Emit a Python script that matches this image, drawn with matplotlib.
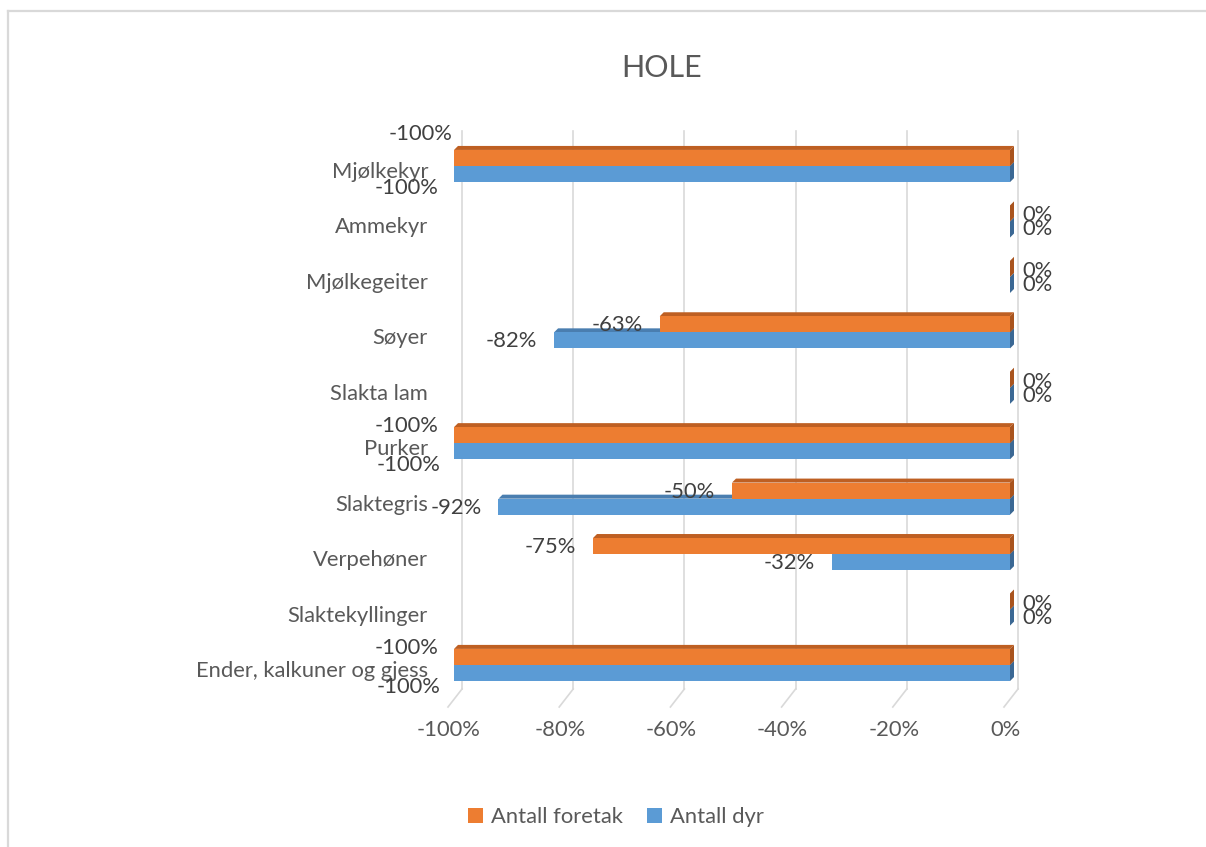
import matplotlib
matplotlib.use("Agg")
import matplotlib.pyplot as plt
from matplotlib.patches import Polygon, Patch
from matplotlib.lines import Line2D

# ---------------- data ----------------
title = "HOLE"
categories = ["Mjølkekyr", "Ammekyr", "Mjølkegeiter", "Søyer", "Slakta lam",
              "Purker", "Slaktegris", "Verpehøner", "Slaktekyllinger",
              "Ender, kalkuner og gjess"]
antall_foretak = [-1.00, 0.00, 0.00, -0.63, 0.00, -1.00, -0.50, -0.75, 0.00, -1.00]
antall_dyr = [-1.00, 0.00, 0.00, -0.82, 0.00, -1.00, -0.92, -0.32, 0.00, -1.00]
series_names = ["Antall foretak", "Antall dyr"]
x_ticks = [-1.0, -0.8, -0.6, -0.4, -0.2, 0.0]
x_tick_labels = ["-100%", "-80%", "-60%", "-40%", "-20%", "0%"]

# ---------------- style ----------------
FONT = ["Lato", "DejaVu Sans"]
plt.rcParams["font.family"] = FONT
TXT = "#595959"
LBL = "#404040"
ORANGE, ORANGE_TOP, ORANGE_SIDE = "#ED7D31", "#BE5F22", "#A9541E"
BLUE, BLUE_TOP, BLUE_SIDE = "#5B9BD5", "#4A7EB0", "#3B6894"
GRID = "#D9D9D9"
FS = 15.8

W, H = 1206, 847
fig = plt.figure(figsize=(W / 100, H / 100), dpi=100)
fig.patch.set_facecolor("white")

ax_left, ax_right = 454.0, 1010.0
ax_top, ax_bot = 138.3, 692.7
n = len(categories)
ax = fig.add_axes([ax_left / W, 1 - ax_bot / H, (ax_right - ax_left) / W, (ax_bot - ax_top) / H])
ax.set_xlim(-1, 0)
ax.set_ylim(n - 0.5, -0.5)
ax.axis("off")

PX_X = (ax_right - ax_left) / 1.0          # pixels per data unit in x
PX_Y = (ax_bot - ax_top) / n               # pixels per category


def px2y(py):
    return -0.5 + (py - ax_top) / PX_Y


def dxp(p):
    return p / PX_X


def dyp(p):
    return p / PX_Y


# ---------------- back wall grid + floor ----------------
for t in x_ticks:
    xb = t + dxp(8)
    ax.add_line(Line2D([xb, xb], [px2y(131), px2y(689)], color=GRID, lw=1.2,
                       clip_on=False, zorder=0))
    ax.add_line(Line2D([xb, t - dxp(6)], [px2y(689), px2y(707)], color=GRID, lw=1.2,
                       clip_on=False, zorder=0))

for t, lab in zip(x_ticks, x_tick_labels):
    ax.text(t - dxp(5), px2y(730), lab, ha="center", va="center", fontsize=FS,
            color=TXT, clip_on=False)

# ---------------- 3D bars ----------------
bh = 0.29
DX, DY = dxp(4), dyp(4)


def draw_bar(v, ytop, front, top, side, z):
    ybot = ytop + bh
    ax.barh(ytop + bh / 2, v, height=bh, color=front, lw=0, zorder=z)
    ax.add_patch(Polygon([(v, ytop), (0, ytop), (DX, ytop - DY), (v + DX, ytop - DY)],
                         closed=True, facecolor=top, lw=0, zorder=z - 0.5, clip_on=False))
    ax.add_patch(Polygon([(0, ytop), (0, ybot), (DX, ybot - DY), (DX, ytop - DY)],
                         closed=True, facecolor=side, lw=0, zorder=z - 0.5, clip_on=False))


for i in range(n):
    draw_bar(antall_dyr[i], i, BLUE, BLUE_TOP, BLUE_SIDE, 3)
    draw_bar(antall_foretak[i], i - bh, ORANGE, ORANGE_TOP, ORANGE_SIDE, 5)

# ---------------- category labels ----------------
for i, c in enumerate(categories):
    ax.text(-1 - dxp(26), i + dyp(6), c, ha="right", va="center", fontsize=FS,
            color=TXT, clip_on=False)

# ---------------- data labels ----------------
def pct(v):
    return f"{round(v * 100):.0f}%"


for i in range(n):
    for s, (vals, ytop) in enumerate(((antall_foretak, i - bh), (antall_dyr, i))):
        v = vals[i]
        yc = ytop + bh / 2
        txt = pct(v)
        if v == 0:
            y = i + (dyp(-6) if s == 0 else dyp(8))
            ax.text(DX + dxp(8), y, "0%", ha="left", va="center", fontsize=FS,
                    color=LBL, clip_on=False)
        elif v <= -0.995:
            if s == 0:
                off = dyp(-32) if i == 0 else dyp(-17)
                xr = v - (dxp(1) if i == 0 else dxp(16))
            else:
                off = dyp(22)
                xr = v - (dxp(16) if i == 0 else dxp(14))
            ax.text(xr, i + off, txt, ha="right", va="center", fontsize=FS,
                    color=LBL, clip_on=False, zorder=8)
        else:
            ax.text(v - dxp(17), yc + dyp(1), txt, ha="right", va="center", fontsize=FS,
                    color=LBL, clip_on=False, zorder=8)

# ---------------- title ----------------
fig.text(662 / W, 1 - 68 / H, title, ha="center", va="center", fontsize=22, color=TXT)

# ---------------- legend ----------------
handles = [Patch(facecolor=ORANGE, edgecolor="none"), Patch(facecolor=BLUE, edgecolor="none")]
fig.legend(handles, series_names, loc="center", bbox_to_anchor=(616 / W, 1 - 817 / H),
           ncol=2, frameon=False, fontsize=FS, handlelength=0.7, handleheight=0.7,
           handletextpad=0.35, columnspacing=1.1, labelcolor=TXT)

# ---------------- outer border (left + top) ----------------
fig.add_artist(Line2D([7.5 / W, 7.5 / W], [0, 1 - 11 / H], transform=fig.transFigure,
                      color=GRID, lw=1.6))
fig.add_artist(Line2D([7.5 / W, 1], [1 - 11.5 / H, 1 - 11.5 / H], transform=fig.transFigure,
                      color=GRID, lw=1.6))

fig.savefig("out.png", dpi=100, facecolor="white")
